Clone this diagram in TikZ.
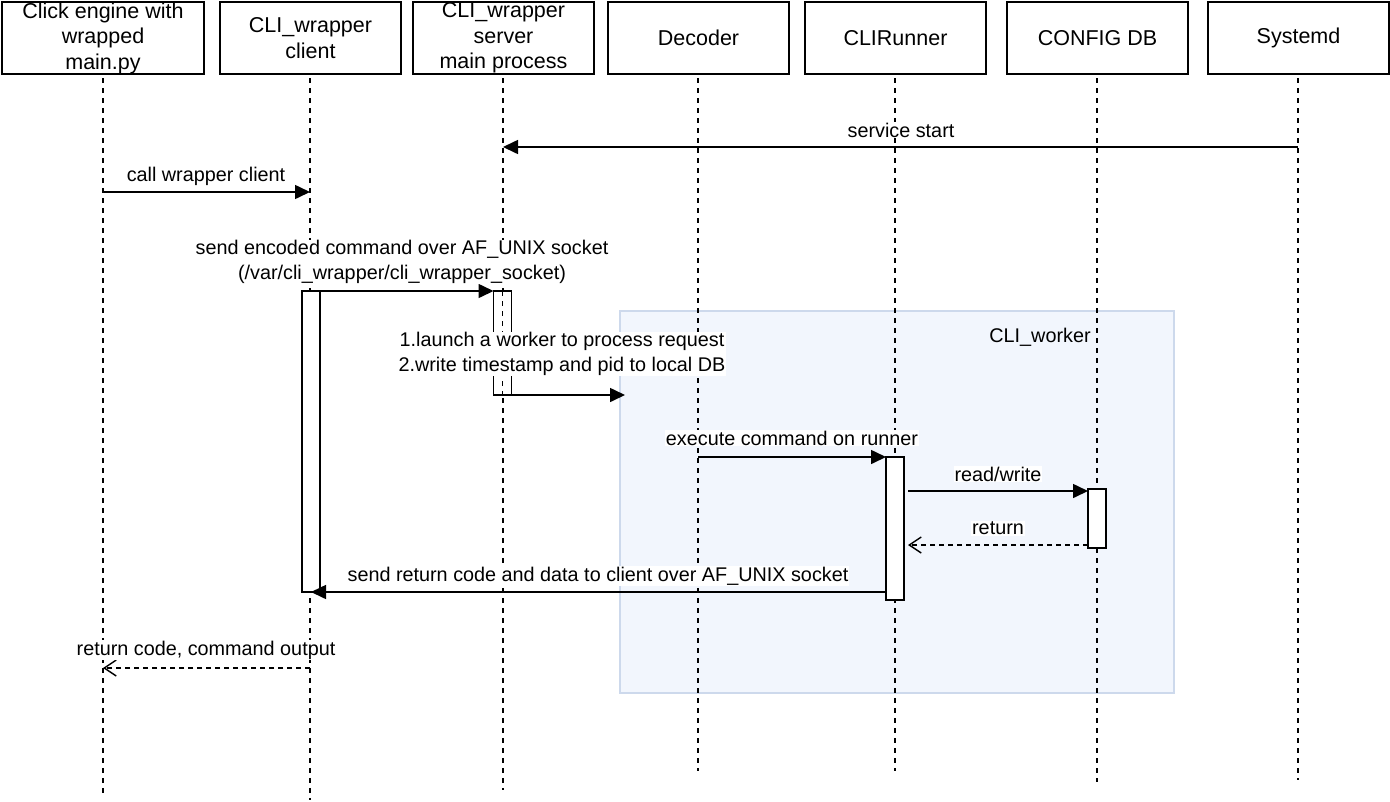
\documentclass[tikz,border=0pt]{standalone}
\usepackage{fontspec}
\setmainfont{Liberation Sans}
\usetikzlibrary{arrows.meta}

\definecolor{workerfill}{RGB}{242,246,253}
\definecolor{workerdraw}{RGB}{205,217,236}

\begin{document}
\begin{tikzpicture}[x=1pt,y=1pt,yscale=-1,xscale=1,
	head/.style={draw, fill=white, line width=1.5pt, minimum width=181pt, minimum height=72pt, align=center, inner sep=0pt, font=\fontsize{21.5}{25.5}\selectfont},
	lifeline/.style={line width=1.4pt, dash pattern={on 5pt off 5pt}},
	act/.style={draw, fill=white, line width=1.5pt, minimum width=18pt, inner sep=0pt, outer sep=0pt, anchor=north},
	call/.style={line width=1.6pt, -{Triangle[length=15pt,width=14pt]}},
	reply/.style={line width=1.4pt, dash pattern={on 5pt off 4pt}, -{Straight Barb[length=12pt,width=16pt,line width=1.4pt]}},
	msglabel/.style={fill=white, inner sep=1pt, align=center, font=\fontsize{19.8}{25}\selectfont}]
	\useasboundingbox (0,0) rectangle (1390,801);

	%Shape: Rectangle [CLI_worker]
	\node [draw=workerdraw, fill=workerfill, line width=1.5pt, minimum width=554pt, minimum height=382pt] (worker) at (897,502) {};
	\node [font=\fontsize{19.8}{25}\selectfont] (workerlabel) at (1040,337) {CLI\_worker};

	%Lifelines
	\coordinate (click-end) at (103,795);
	\coordinate (client-end) at (310,800);
	\coordinate (server-end) at (503,790);
	\coordinate (decoder-end) at (698,771);
	\coordinate (runner-end) at (895,771);
	\coordinate (configdb-end) at (1097,782);
	\coordinate (systemd-end) at (1298,780);
	\draw [lifeline] (103,38) -- (click-end);
	\draw [lifeline] (310,38) -- (client-end);
	\draw [lifeline] (503,38) -- (server-end);
	\draw [lifeline] (698,38) -- (decoder-end);
	\draw [lifeline] (895,38) -- (runner-end);
	\draw [lifeline] (1097,38) -- (configdb-end);
	\draw [lifeline] (1298,38) -- (systemd-end);

	%Header boxes
	\node [head, minimum width=202pt] (click) at (103,38) {Click engine with\\wrapped\\main.py};
	\node [head] (client) at (310.5,38) {CLI\_wrapper\\client};
	\node [head] (server) at (503.5,38) {CLI\_wrapper\\server\\main process};
	\node [head] (decoder) at (698.5,38) {Decoder};
	\node [head] (runner) at (895.5,38) {CLIRunner};
	\node [head] (configdb) at (1097.5,38) {CONFIG DB};
	\node [head] (systemd) at (1298.5,38) {Systemd};

	%Activations
	\node [act, minimum height=301pt] (clientact) at (311,291) {};
	\node [act, minimum height=104pt] (serveract) at (502.5,291) {};
	\node [act, minimum height=143pt] (runneract) at (895,457) {};
	\node [act, minimum height=59pt] (dbact) at (1097,489) {};
	\draw [lifeline, line width=1.2pt] (serveract.north) -- (serveract.south);

	%Messages
	\coordinate (start-src) at (1298,147);
	\coordinate (start-dst) at (503,147);
	\draw [call] (start-src) -- (start-dst);
	\coordinate (call-src) at (103,192);
	\coordinate (call-dst) at (310,192);
	\draw [call] (call-src) -- (call-dst);
	\draw [call] (clientact.north east) -- (serveract.north west);
	\coordinate (launch-dst) at (625,395);
	\draw [call] (serveract.south west) -- (launch-dst);
	\coordinate (exec-src) at (698,457);
	\draw [call] (exec-src) -- (runneract.north west);
	\coordinate (rw-src) at (908,491);
	\draw [call] (rw-src) -- (dbact.west |- rw-src);
	\coordinate (ret-dst) at (908,545);
	\draw [reply] (dbact.west |- ret-dst) -- (ret-dst);
	\coordinate (back-dst) at (311,592);
	\draw [call] (runneract.west |- back-dst) -- (back-dst);
	\coordinate (out-src) at (310,668);
	\coordinate (out-dst) at (103,668);
	\draw [reply] (out-src) -- (out-dst);

	% Text Node
	\node [msglabel] (startlabel) at (901,130) {service start};
	\node [msglabel] (calllabel) at (206,176) {call wrapper client};
	\node [msglabel, font=\fontsize{19.8}{24.5}\selectfont] (sendlabel) at (402,262) {send encoded command over AF\_UNIX socket\\(/var/cli\_wrapper/cli\_wrapper\_socket)};
	\node [msglabel, font=\fontsize{19.8}{24.5}\selectfont] (launchlabel) at (562,354) {1.launch a worker to process request\\2.write timestamp and pid to local DB};
	\node [msglabel] (execlabel) at (792,438) {execute command on runner};
	\node [msglabel] (rwlabel) at (998,474) {read/write};
	\node [msglabel] (retlabel) at (998,528) {return};
	\node [msglabel] (replylabel) at (598,576) {send return code and data to client over AF\_UNIX socket};
	\node [msglabel] (outlabel) at (206,650) {return code, command output};
\end{tikzpicture}
\end{document}
